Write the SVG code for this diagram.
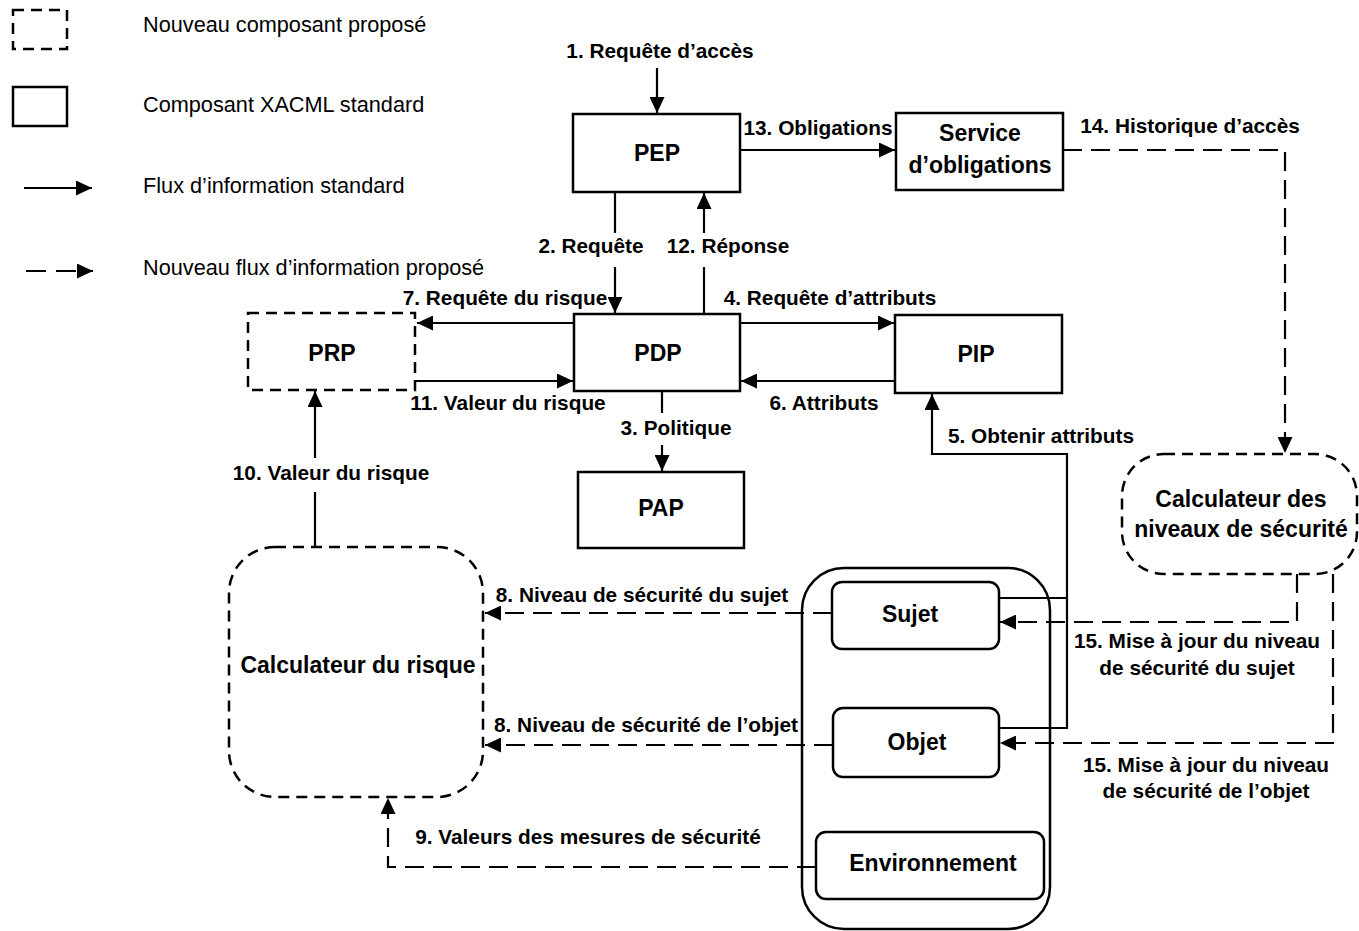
<svg xmlns="http://www.w3.org/2000/svg" width="1359" height="931" viewBox="0 0 1359 931">
  <style>
    .box { fill: #ffffff; stroke: #000000; stroke-width: 2.5; }
    .dbox { fill: #ffffff; stroke: #000000; stroke-width: 2.5; stroke-dasharray: 11 7; }
    .ln { fill: none; stroke: #000000; stroke-width: 2.2; }
    .dln { fill: none; stroke: #000000; stroke-width: 2.2; stroke-dasharray: 19 9; }
    .arr { marker-end: url(#head); }
    .lbl { font-family: "Liberation Sans", Arial, sans-serif; font-weight: bold; font-size: 20.8px; fill: #000000; }
    .nlbl { font-family: "Liberation Sans", Arial, sans-serif; font-weight: bold; font-size: 23px; fill: #000000; text-anchor: middle; }
    .c { text-anchor: middle; }
    .leg { font-family: "Liberation Sans", Arial, sans-serif; font-size: 21.7px; fill: #000000; }
  </style>
  <defs>
    <marker id="head" markerUnits="userSpaceOnUse" markerWidth="16" markerHeight="15" refX="16" refY="7.5" orient="auto">
      <path d="M0,0 L16,7.5 L0,15 z" fill="#000000"/>
    </marker>
  </defs>
  <rect width="1359" height="931" fill="#ffffff"/>

  <!-- legend -->
  <g id="legend">
    <rect class="dbox" x="13" y="10" width="54" height="39"/>
    <text class="leg" x="143" y="32">Nouveau composant proposé</text>
    <rect class="box" x="13" y="87" width="54" height="39"/>
    <text class="leg" x="143" y="112">Composant XACML standard</text>
    <line class="ln arr" x1="24" y1="188" x2="92" y2="188"/>
    <text class="leg" x="143" y="193">Flux d’information standard</text>
    <line class="ln arr" x1="26" y1="271" x2="93" y2="271" stroke-dasharray="20 10"/>
    <text class="leg" x="143" y="275">Nouveau flux d’information proposé</text>
  </g>

  <!-- connectors -->
  <g id="connectors">
    <line class="ln arr" x1="657" y1="68" x2="657" y2="113"/>
    <line class="ln" x1="615" y1="192" x2="615" y2="233"/>
    <line class="ln arr" x1="615" y1="267" x2="615" y2="313"/>
    <line class="ln" x1="704" y1="314" x2="704" y2="267"/>
    <line class="ln arr" x1="704" y1="233" x2="704" y2="193"/>
    <line class="ln arr" x1="740" y1="150" x2="895" y2="150"/>
    <polyline class="dln arr" points="1063,150 1285,150 1285,453"/>
    <line class="ln arr" x1="740" y1="323" x2="894" y2="323"/>
    <line class="ln arr" x1="574" y1="323" x2="417" y2="323"/>
    <line class="ln arr" x1="416" y1="381" x2="573" y2="381"/>
    <line class="ln arr" x1="895" y1="381" x2="741" y2="381"/>
    <line class="ln" x1="662" y1="391" x2="662" y2="413"/>
    <line class="ln arr" x1="662" y1="445" x2="662" y2="471"/>
    <line class="ln" x1="315" y1="547" x2="315" y2="492"/>
    <line class="ln arr" x1="315" y1="458" x2="315" y2="391"/>
    <polyline class="ln" points="999,598 1067,598"/>
    <polyline class="ln arr" points="999,728 1067,728 1067,454 932,454 932,394"/>
    <line class="dln arr" x1="832" y1="613" x2="485" y2="613"/>
    <line class="dln arr" x1="833" y1="745" x2="485" y2="745"/>
    <polyline class="dln arr" points="816,867 388,867 388,798"/>
    <polyline class="dln arr" points="1297,574 1297,622 1000,622"/>
    <polyline class="dln arr" points="1333,574 1333,743 1000,743"/>
  </g>

  <!-- connector labels -->
  <g id="labels">
    <text class="lbl c" x="660" y="58">1. Requête d’accès</text>
    <text class="lbl c" x="818" y="135">13. Obligations</text>
    <text class="lbl c" x="1190" y="133">14. Historique d’accès</text>
    <text class="lbl c" x="591" y="253">2. Requête</text>
    <text class="lbl c" x="728" y="253">12. Réponse</text>
    <text class="lbl c" x="505" y="305">7. Requête du risque</text>
    <text class="lbl c" x="830" y="305">4. Requête d’attributs</text>
    <text class="lbl c" x="508" y="410">11. Valeur du risque</text>
    <text class="lbl c" x="824" y="410">6. Attributs</text>
    <text class="lbl c" x="676" y="435">3. Politique</text>
    <text class="lbl c" x="1041" y="443">5. Obtenir attributs</text>
    <text class="lbl c" x="331" y="480">10. Valeur du risque</text>
    <text class="lbl c" x="642" y="602">8. Niveau de sécurité du sujet</text>
    <text class="lbl c" x="646" y="732">8. Niveau de sécurité de l’objet</text>
    <text class="lbl c" x="588" y="844">9. Valeurs des mesures de sécurité</text>
    <text class="lbl c" x="1197" y="648">15. Mise à jour du niveau</text>
    <text class="lbl c" x="1197" y="675">de sécurité du sujet</text>
    <text class="lbl c" x="1206" y="772">15. Mise à jour du niveau</text>
    <text class="lbl c" x="1206" y="798">de sécurité de l’objet</text>
  </g>

  <!-- nodes -->
  <g id="pep">
    <rect class="box" x="573" y="114" width="167" height="78"/>
    <text class="nlbl" x="657" y="161">PEP</text>
  </g>
  <g id="service-obligations">
    <rect class="box" x="896" y="113" width="167" height="77"/>
    <text class="nlbl" x="980" y="141">Service</text>
    <text class="nlbl" x="980" y="173">d’obligations</text>
  </g>
  <g id="pdp">
    <rect class="box" x="574" y="314" width="166" height="77"/>
    <text class="nlbl" x="658" y="361">PDP</text>
  </g>
  <g id="pip">
    <rect class="box" x="895" y="315" width="167" height="78"/>
    <text class="nlbl" x="976" y="362">PIP</text>
  </g>
  <g id="prp">
    <rect class="dbox" x="248" y="313" width="167" height="77"/>
    <text class="nlbl" x="332" y="361">PRP</text>
  </g>
  <g id="pap">
    <rect class="box" x="578" y="472" width="166" height="76"/>
    <text class="nlbl" x="661" y="516">PAP</text>
  </g>
  <g id="calc-niveaux">
    <rect class="dbox" x="1122" y="454" width="235" height="120" rx="42"/>
    <text class="nlbl" x="1241" y="507">Calculateur des</text>
    <text class="nlbl" x="1241" y="537">niveaux de sécurité</text>
  </g>
  <g id="calc-risque">
    <rect class="dbox" x="229" y="547" width="254" height="250" rx="46"/>
    <text class="nlbl" x="358" y="673">Calculateur du risque</text>
  </g>
  <g id="attributs">
    <rect fill="none" stroke="#000000" stroke-width="2.5" x="802" y="568" width="248" height="361" rx="42"/>
  </g>
  <g id="sujet">
    <rect class="box" x="832" y="582" width="167" height="67" rx="10"/>
    <text class="nlbl" x="910" y="622">Sujet</text>
  </g>
  <g id="objet">
    <rect class="box" x="833" y="708" width="166" height="69" rx="10"/>
    <text class="nlbl" x="917" y="750">Objet</text>
  </g>
  <g id="environnement">
    <rect class="box" x="816" y="832" width="228" height="67" rx="10"/>
    <text class="nlbl" x="933" y="871">Environnement</text>
  </g>
</svg>
